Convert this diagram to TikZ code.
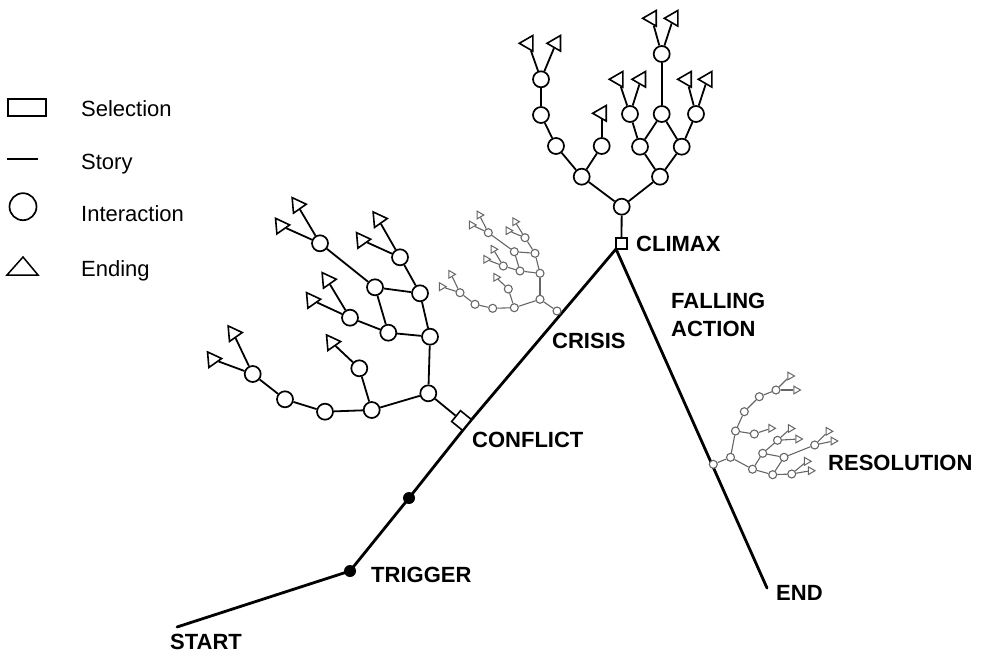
\documentclass[tikz,border=0pt]{standalone}
\usepackage{fontspec}
\setmainfont{Liberation Sans}
\usetikzlibrary{shapes.geometric}

\begin{document}
\begin{tikzpicture}[x=1pt,y=-1pt,
  story/.style={line width=2.8pt, line cap=round},
  edge/.style={line width=1.8pt},
  sedge/.style={line width=1.1pt, draw=black!60},
  inter/.style={circle, draw, line width=1.7pt, fill=white, minimum size=16pt, inner sep=0pt},
  ending/.style={regular polygon, regular polygon sides=3, draw, line width=1.6pt, fill=white,
                 minimum size=18pt, inner sep=0pt, shape border rotate=#1},
  ending/.default=-90,
  sinter/.style={circle, draw=black!60, line width=1.1pt, fill=white, minimum size=8pt, inner sep=0pt},
  sending/.style={regular polygon, regular polygon sides=3, draw=black!60, line width=1pt, fill=white,
                  minimum size=9pt, inner sep=0pt, shape border rotate=-90},
  selbox/.style={rectangle, draw, line width=1.6pt, fill=white, inner sep=0pt},
  dot/.style={circle, fill=black, minimum size=12pt, inner sep=0pt},
  lab/.style={font=\bfseries\fontsize{22}{26}\selectfont, anchor=base west, inner sep=0pt},
  leg/.style={font=\fontsize{22}{26}\selectfont, anchor=base west, inner sep=0pt}
]
\useasboundingbox (0,0) rectangle (982,653);

% ---------- legend ----------
\node[selbox, minimum width=38pt, minimum height=17pt] (legsel) at (27,107.5) {};
\node[leg] (legseltext) at (81,116.5) {Selection};
\coordinate (legstoryA) at (7,159);
\coordinate (legstoryB) at (38,159);
\draw[line width=1.5pt] (legstoryA) -- (legstoryB);
\node[leg] (legstorytext) at (81,169.3) {Story};
\node[inter, minimum size=27pt] (leginter) at (23,206.7) {};
\node[leg] (leginttext) at (81,221.7) {Interaction};
\draw[line width=1.5pt, line join=miter] (7,275) -- (23,257) -- (38,275) -- cycle;
\node[leg] (legendtext) at (81,276) {Ending};

% ---------- story line ----------
\coordinate (start) at (177,627);
\coordinate (trig) at (350,571);
\coordinate (midpt) at (409,498);
\coordinate (cf) at (467,425);
\coordinate (apex) at (616,249);
\coordinate (end) at (767,588);
\draw[story, line join=round] (start) -- (trig) -- (midpt) -- (cf) -- (apex) -- (end);
\node[dot] (trigdot) at (trig) {};
\node[dot] (middot) at (midpt) {};

% ---------- labels ----------
\node[lab] (lstart) at (170,649) {START};
\node[lab] (ltrig) at (371,582) {TRIGGER};
\node[lab] (lconf) at (472,447) {CONFLICT};
\node[lab] (lcrisis) at (552,348) {CRISIS};
\node[lab] (lfall1) at (671,308) {FALLING};
\node[lab] (lfall2) at (671,336) {ACTION};
\node[lab] (lclimax) at (636,251) {CLIMAX};
\node[lab] (lres) at (828,470) {RESOLUTION};
\node[lab] (lend) at (776,600) {END};

% ---------- conflict tree ----------
\node[selbox, minimum size=14pt, rotate=51] (csq) at (461.5,420.5) {};
\foreach \n/\p in {A/{428.3,393.3}, B/{430,336.7}, C/{420,293.3}, D/{400,257.3},
                   E/{375,287.3}, F/{320,243.3}, G/{388.3,332.7}, H/{350,317.7},
                   I/{371.7,410}, J/{359.3,368.3}, K/{325,411.7}, L/{285,399.3}, M/{252.7,374}}
  \node[inter] (c\n) at (\p) {};
\foreach \n/\p in {1/{297.3,205}, 2/{280.7,225.7}, 3/{378.3,219.3}, 4/{361.7,240},
                   5/{327.3,280}, 6/{311.7,300}, 7/{331.7,342.3}, 8/{233.3,333.3}, 9/{212.7,359.3}}
  \node[ending=-85] (ct\n) at (\p) {};
\foreach \a/\b in {csq/cA, cA/cB, cB/cC, cC/cD, cC/cE, cE/cF, cE/cG, cB/cG, cG/cH,
                   cA/cI, cI/cJ, cI/cK, cK/cL, cL/cM,
                   cF/ct1, cF/ct2, cD/ct3, cD/ct4, cH/ct5, cH/ct6, cJ/ct7, cM/ct8, cM/ct9}
  \draw[edge] (\a) -- (\b);

% ---------- climax tree ----------
\node[selbox, minimum size=11pt] (ksq) at (621.5,243.5) {};
\foreach \n/\p in {1/{621.7,206.7}, 2/{581.7,176.7}, 3/{660,176.7}, 4/{556,146},
                   5/{601.7,146}, 6/{541,115}, 7/{541,79.3}, 8/{640,146.7},
                   9/{681.7,146.7}, 10/{630,114}, 11/{661.7,114}, 12/{696,114}, 13/{661.7,54}}
  \node[inter] (k\n) at (\p) {};
\foreach \n/\p in {1/{528.3,43.3}, 2/{556,43.3}, 3/{601.7,113.3}, 4/{618.3,79.3}, 5/{641,79.3},
                   6/{651.7,18.3}, 7/{673.3,18.3}, 8/{686.7,79.3}, 9/{707.3,79.3}}
  \node[ending=90] (kt\n) at (\p) {};
\foreach \a/\b in {ksq/k1, k1/k2, k1/k3, k2/k4, k2/k5, k4/k6, k6/k7, k3/k8, k3/k9,
                   k8/k10, k8/k11, k9/k11, k9/k12, k11/k13,
                   k7/kt1, k7/kt2, k5/kt3, k10/kt4, k10/kt5, k13/kt6, k13/kt7, k12/kt8, k12/kt9}
  \draw[edge] (\a) -- (\b);

% ---------- crisis tree (small) ----------
\foreach \n/\p in {0/{557,311}, A/{540,299.3}, B/{540,273.3}, C/{535,253.3}, D/{525,237.7},
                   E/{514.3,251.7}, F/{488.3,232.7}, G/{520,271}, H/{503.3,266},
                   I/{514.3,307.7}, J/{508.3,289}, K/{492.7,308.3}, L/{475,304.3}, M/{460,292.7}}
  \node[sinter] (s\n) at (\p) {};
\foreach \n/\p in {1/{479.3,215}, 2/{471.7,225}, 3/{515,221.7}, 4/{508.3,230.7},
                   5/{493.3,249.3}, 6/{486,259.3}, 7/{496,277.3}, 8/{451,274.3}, 9/{441.7,286.7}}
  \node[sending] (st\n) at (\p) {};
\foreach \a/\b in {s0/sA, sA/sB, sB/sC, sC/sD, sC/sE, sE/sF, sE/sG, sB/sG, sG/sH,
                   sA/sI, sI/sJ, sI/sK, sK/sL, sL/sM,
                   sF/st1, sF/st2, sD/st3, sD/st4, sH/st5, sH/st6, sJ/st7, sM/st8, sM/st9}
  \draw[sedge] (\a) -- (\b);

% ---------- resolution tree (small) ----------
\foreach \n/\p in {0/{713.3,464.3}, 1/{730.5,457.3}, 2/{735.5,431}, 3/{744.3,411.7},
                   4/{759.3,396.7}, 5/{776,390}, 6/{754.3,434}, 7/{752.5,469.2},
                   8/{762.7,453.3}, 9/{777.5,440.3}, 10/{784,457.3}, 11/{814.7,445},
                   12/{772.7,474.7}, 13/{791.7,474}}
  \node[sinter] (r\n) at (\p) {};
\foreach \n/\p in {1/{790,376}, 2/{796,390}, 3/{771,428.3}, 4/{790.5,428.5}, 5/{798,439},
                   6/{828.3,431.3}, 7/{833.3,441}, 8/{806.7,461.3}, 9/{810.5,470.7}}
  \node[sending] (rt\n) at (\p) {};
\foreach \a/\b in {r0/r1, r1/r2, r2/r3, r3/r4, r4/r5, r2/r6, r1/r7, r7/r8, r8/r9, r8/r10,
                   r10/r11, r7/r12, r12/r10, r12/r13,
                   r5/rt1, r5/rt2, r6/rt3, r9/rt4, r9/rt5, r11/rt6, r11/rt7, r13/rt8, r13/rt9}
  \draw[sedge] (\a) -- (\b);
\end{tikzpicture}
\end{document}
